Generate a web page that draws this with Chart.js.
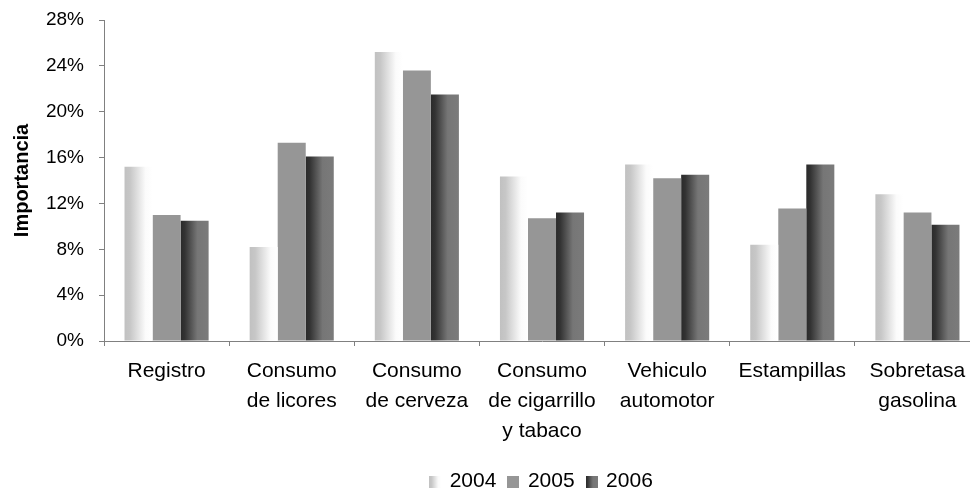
<!DOCTYPE html>
<html>
<head>
<meta charset="utf-8">
<script src="https://cdn.jsdelivr.net/npm/chart.js@4"></script>
<style>
  html, body { margin: 0; padding: 0; background: #fff; overflow: hidden; }
  #wrap { width: 980px; height: 492px; }
</style>
</head>
<body>
<div id="wrap"><canvas id="chart" width="980" height="492"></canvas></div>
<script>
'use strict';

const categories = [
    ['Registro'],
    ['Consumo', 'de licores'],
    ['Consumo', 'de cerveza'],
    ['Consumo', 'de cigarrillo', 'y tabaco'],
    ['Vehiculo', 'automotor'],
    ['Estampillas'],
    ['Sobretasa', 'gasolina']
];
const years = ['2004', '2005', '2006'];
const values2004 = [15.2, 8.2, 25.2, 14.35, 15.4, 8.4, 12.8];
const values2005 = [11.0, 17.3, 23.6, 10.7, 14.2, 11.55, 11.2];
const values2006 = [10.5, 16.1, 21.5, 11.2, 14.5, 15.4, 10.15];
const yTickLabels = ['0%', '4%', '8%', '12%', '16%', '20%', '24%', '28%'];

const FONT = '"Liberation Sans", Arial, Helvetica, sans-serif';
const AXIS_GRAY = '#808080';

// horizontal gradient stops for each series (null = flat colour)
const seriesStops = [
    [[0, '#c1c1c1'], [0.2, '#c7c7c7'], [0.75, '#fbfbfb'], [1, '#ffffff']],
    null,
    [[0, '#2a2a2a'], [0.15, '#333333'], [0.6, '#767676'], [1, '#7b7b7b']]
];
const flatColors = ['#dddddd', '#969696', '#555555'];

function makeGradient(ctx, stops, x0, x1) {
    const g = ctx.createLinearGradient(x0, 0, x1, 0);
    stops.forEach(([pos, col]) => g.addColorStop(pos, col));
    return g;
}

// small swatches used as legend point styles
function makeSwatch(i) {
    const c = document.createElement('canvas');
    c.width = 12;
    c.height = 12;
    const cx = c.getContext('2d');
    cx.fillStyle = seriesStops[i] ? makeGradient(cx, seriesStops[i], 0, 12) : flatColors[i];
    cx.fillRect(0, 0, 12, 12);
    return c;
}
const swatches = years.map((_, i) => makeSwatch(i));

// paint each bar with its own left-to-right gradient
// (backgroundColor is scriptable below so every bar gets its own options object)
const barGradientPlugin = {
    id: 'barGradient',
    afterLayout(chart) {
        // centre the legend under the plot area instead of the whole canvas
        if (chart.legend) {
            chart.legend.left = chart.chartArea.left;
            chart.legend.right = chart.chartArea.right;
        }
    },
    beforeDatasetsDraw(chart) {
        const ctx = chart.ctx;
        chart.data.datasets.forEach((ds, i) => {
            const stops = seriesStops[i];
            if (!stops) return;
            chart.getDatasetMeta(i).data.forEach(bar => {
                const left = bar.x - bar.width / 2;
                bar.options.backgroundColor = makeGradient(ctx, stops, left, left + bar.width);
            });
        });
    }
};

const seriesValues = [values2004, values2005, values2006];

new Chart(document.getElementById('chart'), {
    type: 'bar',
    data: {
        labels: categories,
        datasets: years.map((y, i) => ({
            label: y,
            data: seriesValues[i],
            backgroundColor: () => flatColors[i],
            borderWidth: 0,
            categoryPercentage: 0.672,
            barPercentage: 1
        }))
    },
    options: {
        responsive: false,
        animation: false,
        layout: { padding: { top: 20, right: 0, bottom: -10, left: 0 } },
        plugins: {
            tooltip: { enabled: false },
            legend: {
                position: 'bottom',
                labels: {
                    usePointStyle: true,
                    pointStyleWidth: 8,
                    color: '#000',
                    font: { family: FONT, size: 21 },
                    padding: 13,
                    generateLabels(chart) {
                        return chart.data.datasets.map((ds, i) => ({
                            text: ds.label,
                            pointStyle: swatches[i],
                            fillStyle: flatColors[i],
                            strokeStyle: 'rgba(0,0,0,0)',
                            lineWidth: 0,
                            hidden: false,
                            datasetIndex: i,
                            fontColor: '#000'
                        }));
                    }
                }
            }
        },
        scales: {
            x: {
                offset: true,
                grid: {
                    offset: true,
                    drawOnChartArea: false,
                    tickLength: 5,
                    color: AXIS_GRAY
                },
                border: { color: AXIS_GRAY, width: 1 },
                ticks: {
                    color: '#000',
                    padding: 10,
                    maxRotation: 0,
                    autoSkip: false,
                    font: { family: FONT, size: 21, lineHeight: 1.43 }
                },
                afterFit(scale) { scale.height = 117; }
            },
            y: {
                min: 0,
                max: 28,
                grid: {
                    drawOnChartArea: false,
                    tickLength: 5,
                    color: AXIS_GRAY
                },
                border: { color: AXIS_GRAY, width: 1 },
                ticks: {
                    stepSize: 4,
                    color: '#000',
                    padding: 15,
                    font: { family: FONT, size: 19 },
                    callback: (v) => yTickLabels[v / 4]
                },
                title: {
                    display: true,
                    text: 'Importancia',
                    color: '#000',
                    padding: { top: 10, bottom: 0 },
                    font: { family: FONT, size: 20, weight: 'bold' }
                },
                afterFit(scale) {
                    scale.width = 104;
                    scale.paddingTop = 0;
                }
            }
        }
    },
    plugins: [barGradientPlugin]
});
</script>
</body>
</html>
